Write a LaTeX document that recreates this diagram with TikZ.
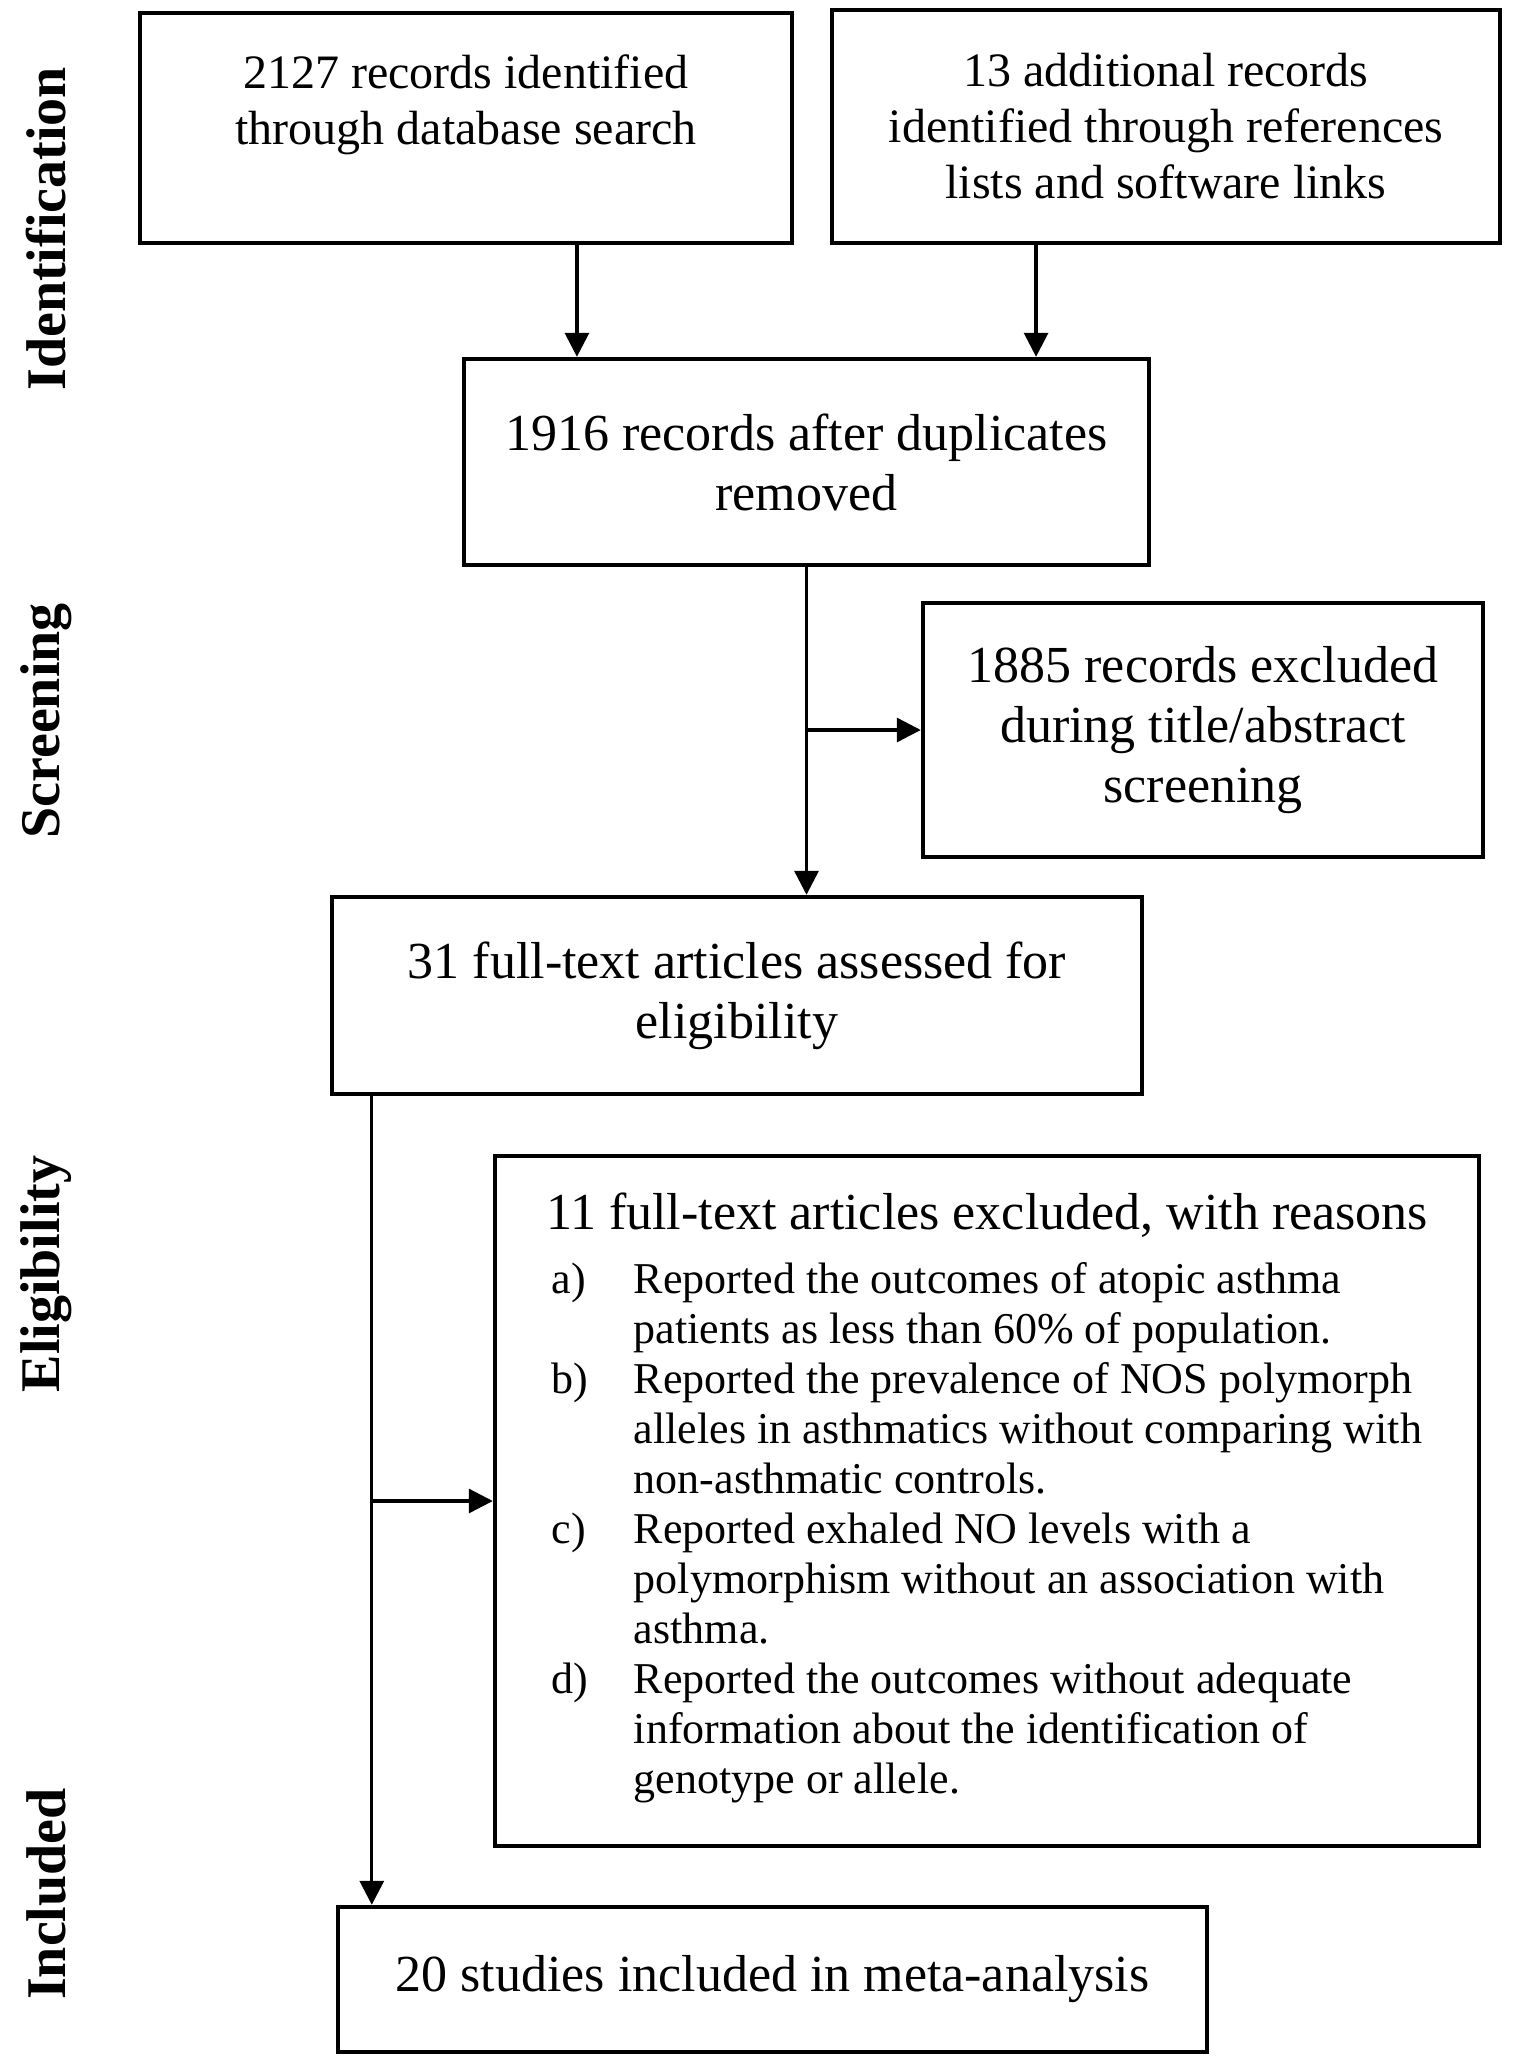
\documentclass[tikz,border=0pt]{standalone}
\usepackage{fontspec}
\setmainfont{Liberation Serif}
\usetikzlibrary{calc}
\usetikzlibrary{arrows.meta}

\begin{document}
\begin{tikzpicture}[x=0.25pt, y=-0.25pt,
	box/.style={draw, line width=1.1pt, align=center, inner sep=0pt, font=\fontsize{13}{15}\selectfont},
	topbox/.style={box, font=\fontsize{12}{14}\selectfont},
	phase/.style={rotate=90, font=\fontsize{14}{16}\selectfont\bfseries},
	arr/.style={line width=0.8pt, -{Triangle[length=6pt, width=6pt]}}]
	\useasboundingbox (0, 0) rectangle (1512, 2056);

	\node[phase](pid) at (46, 229){Identification};
	\node[phase](psc) at (46, 721){Screening};
	\node[phase](pel) at (46, 1274){Eligibility};
	\node[phase](pin) at (46, 1894){Included};

	\node[topbox, minimum width=163pt, minimum height=57.5pt](ident) at (466, 128){2127 records identified\\through database search\\\mbox{}};
	\node[topbox, minimum width=167pt, minimum height=58.25pt](refs) at (1166, 126.5){13 additional records\\identified through references\\lists and software links};
	\node[box, minimum width=171.25pt, minimum height=51.5pt](dedup) at (806.5, 462){1916 records after duplicates\\removed};
	\node[box, minimum width=140pt, minimum height=63.5pt](scrx) at (1203, 730){1885 records excluded\\during title/abstract\\screening};
	\node[box, minimum width=202.5pt, minimum height=49.25pt](full) at (737, 995.5){31 full-text articles assessed for\\eligibility};
	\node[box, minimum width=246pt, minimum height=172.5pt](fullx) at (987, 1501){11 full-text articles excluded, with reasons\\[1pt]
		{\fontsize{11}{12.5}\selectfont\begin{tabular}[t]{@{}p{20.5pt}@{}l@{}}
			a) & Reported the outcomes of atopic asthma\\
			   & patients as less than 60\% of population.\\
			b) & Reported the prevalence of NOS polymorph\\
			   & alleles in asthmatics without comparing with\\
			   & non-asthmatic controls.\\
			c) & Reported exhaled NO levels with a\\
			   & polymorphism without an association with\\
			   & asthma.\\
			d) & Reported the outcomes without adequate\\
			   & information about the identification of\\
			   & genotype or allele.
		\end{tabular}}};
	\node[box, minimum width=217.25pt, minimum height=36.25pt](incl) at (772.5, 1979.5){20 studies included in meta-analysis};

	\coordinate[](inA) at ($(dedup.north west)!0.167!(dedup.north east)$);
	\coordinate[](inB) at ($(dedup.north west)!0.833!(dedup.north east)$);
	\draw[arr] (inA |- ident.south)--(inA);
	\draw[arr] (inB |- refs.south)--(inB);
	\draw[arr] (dedup.south)--(dedup.south |- full.north);
	\draw[arr] (dedup.south |- scrx.west)--(scrx.west);

	\coordinate[](trunk) at ($(full.south west)+(42, 0)$);
	\draw[arr] (trunk)--(trunk |- incl.north);
	\draw[arr] (trunk |- fullx.west)--(fullx.west);
\end{tikzpicture}
\end{document}
